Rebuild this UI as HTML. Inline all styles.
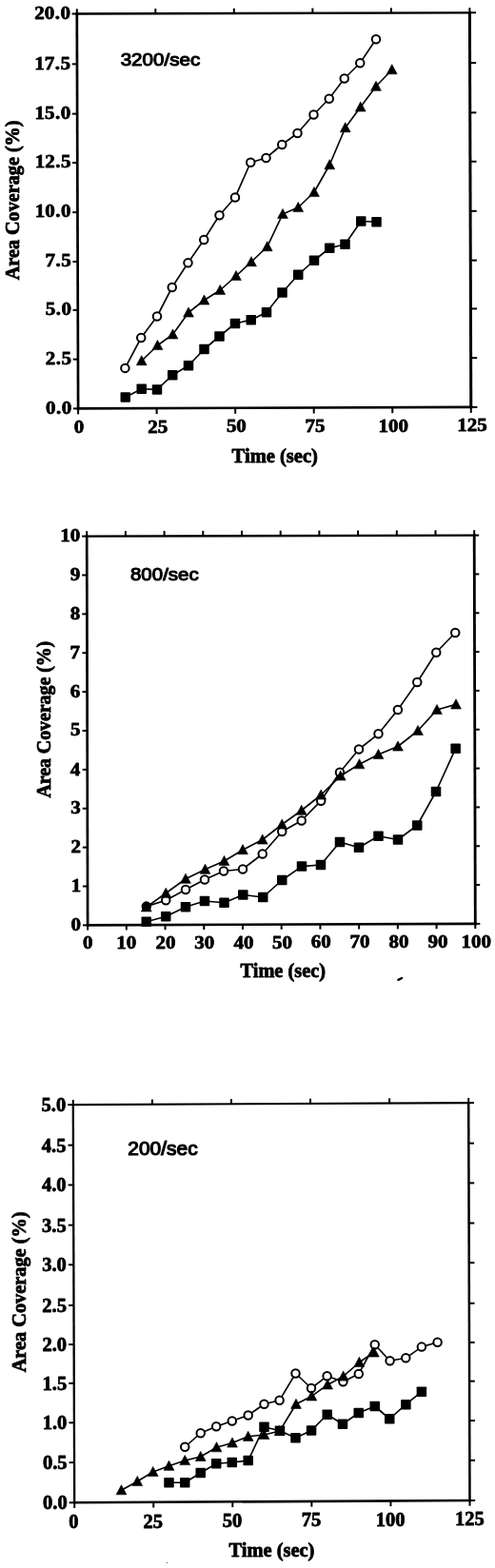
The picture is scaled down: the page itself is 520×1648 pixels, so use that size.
<!DOCTYPE html>
<html lang="en"><head><meta charset="utf-8"><title>Area coverage versus time</title>
<style>
html,body{margin:0;padding:0;background:#fff;}
svg{display:block;}
text{fill:#000;stroke-linejoin:round;}
</style></head>
<body>
<svg width="520" height="1648" viewBox="0 0 520 1648">
<rect width="520" height="1648" fill="#fff"/>
<g>
<line x1="80.80" y1="13.35" x2="82.10" y2="430.70" stroke="#000" stroke-width="2.7" stroke-linecap="butt"/>
<line x1="493.40" y1="12.15" x2="494.80" y2="429.20" stroke="#000" stroke-width="3.0" stroke-linecap="butt"/>
<line x1="79.45" y1="14.50" x2="494.90" y2="13.30" stroke="#000" stroke-width="2.3" stroke-linecap="butt"/>
<line x1="80.75" y1="429.40" x2="496.30" y2="427.90" stroke="#000" stroke-width="2.6" stroke-linecap="butt"/>
<line x1="80.80" y1="14.50" x2="80.80" y2="9.30" stroke="#000" stroke-width="2.0" stroke-linecap="butt"/>
<line x1="82.10" y1="429.40" x2="82.10" y2="435.40" stroke="#000" stroke-width="2.0" stroke-linecap="butt"/>
<line x1="163.32" y1="14.26" x2="163.32" y2="9.06" stroke="#000" stroke-width="2.0" stroke-linecap="butt"/>
<line x1="164.64" y1="429.10" x2="164.64" y2="435.10" stroke="#000" stroke-width="2.0" stroke-linecap="butt"/>
<line x1="245.84" y1="14.02" x2="245.84" y2="8.82" stroke="#000" stroke-width="2.0" stroke-linecap="butt"/>
<line x1="247.18" y1="428.80" x2="247.18" y2="434.80" stroke="#000" stroke-width="2.0" stroke-linecap="butt"/>
<line x1="328.36" y1="13.78" x2="328.36" y2="8.58" stroke="#000" stroke-width="2.0" stroke-linecap="butt"/>
<line x1="329.72" y1="428.50" x2="329.72" y2="434.50" stroke="#000" stroke-width="2.0" stroke-linecap="butt"/>
<line x1="410.88" y1="13.54" x2="410.88" y2="8.34" stroke="#000" stroke-width="2.0" stroke-linecap="butt"/>
<line x1="412.26" y1="428.20" x2="412.26" y2="434.20" stroke="#000" stroke-width="2.0" stroke-linecap="butt"/>
<line x1="493.40" y1="13.30" x2="493.40" y2="8.10" stroke="#000" stroke-width="2.0" stroke-linecap="butt"/>
<line x1="494.80" y1="427.90" x2="494.80" y2="433.90" stroke="#000" stroke-width="2.0" stroke-linecap="butt"/>
<line x1="82.10" y1="429.40" x2="76.90" y2="429.40" stroke="#000" stroke-width="2.0" stroke-linecap="butt"/>
<line x1="494.80" y1="427.90" x2="501.40" y2="427.90" stroke="#000" stroke-width="2.0" stroke-linecap="butt"/>
<line x1="81.94" y1="377.64" x2="76.74" y2="377.64" stroke="#000" stroke-width="2.0" stroke-linecap="butt"/>
<line x1="494.62" y1="376.18" x2="501.23" y2="376.18" stroke="#000" stroke-width="2.0" stroke-linecap="butt"/>
<line x1="81.77" y1="325.87" x2="76.57" y2="325.87" stroke="#000" stroke-width="2.0" stroke-linecap="butt"/>
<line x1="494.45" y1="324.45" x2="501.05" y2="324.45" stroke="#000" stroke-width="2.0" stroke-linecap="butt"/>
<line x1="81.61" y1="275.01" x2="76.41" y2="275.01" stroke="#000" stroke-width="2.0" stroke-linecap="butt"/>
<line x1="494.27" y1="273.62" x2="500.88" y2="273.62" stroke="#000" stroke-width="2.0" stroke-linecap="butt"/>
<line x1="81.45" y1="223.15" x2="76.25" y2="223.15" stroke="#000" stroke-width="2.0" stroke-linecap="butt"/>
<line x1="494.10" y1="221.80" x2="500.70" y2="221.80" stroke="#000" stroke-width="2.0" stroke-linecap="butt"/>
<line x1="81.29" y1="171.09" x2="76.09" y2="171.09" stroke="#000" stroke-width="2.0" stroke-linecap="butt"/>
<line x1="493.93" y1="169.77" x2="500.53" y2="169.77" stroke="#000" stroke-width="2.0" stroke-linecap="butt"/>
<line x1="81.12" y1="119.63" x2="75.92" y2="119.63" stroke="#000" stroke-width="2.0" stroke-linecap="butt"/>
<line x1="493.75" y1="118.35" x2="500.35" y2="118.35" stroke="#000" stroke-width="2.0" stroke-linecap="butt"/>
<line x1="80.96" y1="67.36" x2="75.76" y2="67.36" stroke="#000" stroke-width="2.0" stroke-linecap="butt"/>
<line x1="493.57" y1="66.12" x2="500.18" y2="66.12" stroke="#000" stroke-width="2.0" stroke-linecap="butt"/>
<line x1="80.80" y1="14.50" x2="75.60" y2="14.50" stroke="#000" stroke-width="2.0" stroke-linecap="butt"/>
<line x1="493.40" y1="13.30" x2="500.00" y2="13.30" stroke="#000" stroke-width="2.0" stroke-linecap="butt"/>
<line x1="91.20" y1="562.40" x2="92.10" y2="973.70" stroke="#000" stroke-width="2.7" stroke-linecap="butt"/>
<line x1="498.20" y1="561.40" x2="499.30" y2="972.20" stroke="#000" stroke-width="2.8" stroke-linecap="butt"/>
<line x1="89.85" y1="563.60" x2="499.60" y2="562.60" stroke="#000" stroke-width="2.4" stroke-linecap="butt"/>
<line x1="90.75" y1="972.40" x2="500.70" y2="970.90" stroke="#000" stroke-width="2.6" stroke-linecap="butt"/>
<line x1="91.20" y1="563.60" x2="91.20" y2="558.20" stroke="#000" stroke-width="2.0" stroke-linecap="butt"/>
<line x1="92.10" y1="972.40" x2="92.10" y2="977.60" stroke="#000" stroke-width="2.0" stroke-linecap="butt"/>
<line x1="131.90" y1="563.50" x2="131.90" y2="558.10" stroke="#000" stroke-width="2.0" stroke-linecap="butt"/>
<line x1="132.82" y1="972.25" x2="132.82" y2="977.45" stroke="#000" stroke-width="2.0" stroke-linecap="butt"/>
<line x1="172.60" y1="563.40" x2="172.60" y2="558.00" stroke="#000" stroke-width="2.0" stroke-linecap="butt"/>
<line x1="173.54" y1="972.10" x2="173.54" y2="977.30" stroke="#000" stroke-width="2.0" stroke-linecap="butt"/>
<line x1="213.30" y1="563.30" x2="213.30" y2="557.90" stroke="#000" stroke-width="2.0" stroke-linecap="butt"/>
<line x1="214.26" y1="971.95" x2="214.26" y2="977.15" stroke="#000" stroke-width="2.0" stroke-linecap="butt"/>
<line x1="254.00" y1="563.20" x2="254.00" y2="557.80" stroke="#000" stroke-width="2.0" stroke-linecap="butt"/>
<line x1="254.98" y1="971.80" x2="254.98" y2="977.00" stroke="#000" stroke-width="2.0" stroke-linecap="butt"/>
<line x1="294.70" y1="563.10" x2="294.70" y2="557.70" stroke="#000" stroke-width="2.0" stroke-linecap="butt"/>
<line x1="295.70" y1="971.65" x2="295.70" y2="976.85" stroke="#000" stroke-width="2.0" stroke-linecap="butt"/>
<line x1="335.40" y1="563.00" x2="335.40" y2="557.60" stroke="#000" stroke-width="2.0" stroke-linecap="butt"/>
<line x1="336.42" y1="971.50" x2="336.42" y2="976.70" stroke="#000" stroke-width="2.0" stroke-linecap="butt"/>
<line x1="376.10" y1="562.90" x2="376.10" y2="557.50" stroke="#000" stroke-width="2.0" stroke-linecap="butt"/>
<line x1="377.14" y1="971.35" x2="377.14" y2="976.55" stroke="#000" stroke-width="2.0" stroke-linecap="butt"/>
<line x1="416.80" y1="562.80" x2="416.80" y2="557.40" stroke="#000" stroke-width="2.0" stroke-linecap="butt"/>
<line x1="417.86" y1="971.20" x2="417.86" y2="976.40" stroke="#000" stroke-width="2.0" stroke-linecap="butt"/>
<line x1="457.50" y1="562.70" x2="457.50" y2="557.30" stroke="#000" stroke-width="2.0" stroke-linecap="butt"/>
<line x1="458.58" y1="971.05" x2="458.58" y2="976.25" stroke="#000" stroke-width="2.0" stroke-linecap="butt"/>
<line x1="498.20" y1="562.60" x2="498.20" y2="557.20" stroke="#000" stroke-width="2.0" stroke-linecap="butt"/>
<line x1="499.30" y1="970.90" x2="499.30" y2="976.10" stroke="#000" stroke-width="2.0" stroke-linecap="butt"/>
<line x1="92.10" y1="972.40" x2="87.00" y2="972.40" stroke="#000" stroke-width="2.0" stroke-linecap="butt"/>
<line x1="499.30" y1="970.90" x2="504.30" y2="970.90" stroke="#000" stroke-width="2.0" stroke-linecap="butt"/>
<line x1="92.01" y1="931.52" x2="86.91" y2="931.52" stroke="#000" stroke-width="2.0" stroke-linecap="butt"/>
<line x1="499.19" y1="930.07" x2="504.19" y2="930.07" stroke="#000" stroke-width="2.0" stroke-linecap="butt"/>
<line x1="91.92" y1="890.64" x2="86.82" y2="890.64" stroke="#000" stroke-width="2.0" stroke-linecap="butt"/>
<line x1="499.08" y1="889.24" x2="504.08" y2="889.24" stroke="#000" stroke-width="2.0" stroke-linecap="butt"/>
<line x1="91.83" y1="849.76" x2="86.73" y2="849.76" stroke="#000" stroke-width="2.0" stroke-linecap="butt"/>
<line x1="498.97" y1="848.41" x2="503.97" y2="848.41" stroke="#000" stroke-width="2.0" stroke-linecap="butt"/>
<line x1="91.74" y1="808.88" x2="86.64" y2="808.88" stroke="#000" stroke-width="2.0" stroke-linecap="butt"/>
<line x1="498.86" y1="807.58" x2="503.86" y2="807.58" stroke="#000" stroke-width="2.0" stroke-linecap="butt"/>
<line x1="91.65" y1="768.00" x2="86.55" y2="768.00" stroke="#000" stroke-width="2.0" stroke-linecap="butt"/>
<line x1="498.75" y1="766.75" x2="503.75" y2="766.75" stroke="#000" stroke-width="2.0" stroke-linecap="butt"/>
<line x1="91.56" y1="727.12" x2="86.46" y2="727.12" stroke="#000" stroke-width="2.0" stroke-linecap="butt"/>
<line x1="498.64" y1="725.92" x2="503.64" y2="725.92" stroke="#000" stroke-width="2.0" stroke-linecap="butt"/>
<line x1="91.47" y1="686.24" x2="86.37" y2="686.24" stroke="#000" stroke-width="2.0" stroke-linecap="butt"/>
<line x1="498.53" y1="685.09" x2="503.53" y2="685.09" stroke="#000" stroke-width="2.0" stroke-linecap="butt"/>
<line x1="91.38" y1="645.36" x2="86.28" y2="645.36" stroke="#000" stroke-width="2.0" stroke-linecap="butt"/>
<line x1="498.42" y1="644.26" x2="503.42" y2="644.26" stroke="#000" stroke-width="2.0" stroke-linecap="butt"/>
<line x1="91.29" y1="604.48" x2="86.19" y2="604.48" stroke="#000" stroke-width="2.0" stroke-linecap="butt"/>
<line x1="498.31" y1="603.43" x2="503.31" y2="603.43" stroke="#000" stroke-width="2.0" stroke-linecap="butt"/>
<line x1="91.20" y1="563.60" x2="86.10" y2="563.60" stroke="#000" stroke-width="2.0" stroke-linecap="butt"/>
<line x1="498.20" y1="562.60" x2="503.20" y2="562.60" stroke="#000" stroke-width="2.0" stroke-linecap="butt"/>
<line x1="76.80" y1="1160.00" x2="78.20" y2="1580.60" stroke="#000" stroke-width="2.3" stroke-linecap="butt"/>
<line x1="492.20" y1="1158.00" x2="493.50" y2="1578.30" stroke="#000" stroke-width="2.5" stroke-linecap="butt"/>
<line x1="75.65" y1="1161.10" x2="493.45" y2="1159.10" stroke="#000" stroke-width="2.2" stroke-linecap="butt"/>
<line x1="77.05" y1="1579.30" x2="494.75" y2="1577.00" stroke="#000" stroke-width="2.6" stroke-linecap="butt"/>
<line x1="76.80" y1="1161.10" x2="76.80" y2="1155.90" stroke="#000" stroke-width="2.0" stroke-linecap="butt"/>
<line x1="78.20" y1="1579.30" x2="78.20" y2="1585.00" stroke="#000" stroke-width="2.0" stroke-linecap="butt"/>
<line x1="159.88" y1="1160.70" x2="159.88" y2="1155.50" stroke="#000" stroke-width="2.0" stroke-linecap="butt"/>
<line x1="161.26" y1="1578.84" x2="161.26" y2="1584.54" stroke="#000" stroke-width="2.0" stroke-linecap="butt"/>
<line x1="242.96" y1="1160.30" x2="242.96" y2="1155.10" stroke="#000" stroke-width="2.0" stroke-linecap="butt"/>
<line x1="244.32" y1="1578.38" x2="244.32" y2="1584.08" stroke="#000" stroke-width="2.0" stroke-linecap="butt"/>
<line x1="326.04" y1="1159.90" x2="326.04" y2="1154.70" stroke="#000" stroke-width="2.0" stroke-linecap="butt"/>
<line x1="327.38" y1="1577.92" x2="327.38" y2="1583.62" stroke="#000" stroke-width="2.0" stroke-linecap="butt"/>
<line x1="409.12" y1="1159.50" x2="409.12" y2="1154.30" stroke="#000" stroke-width="2.0" stroke-linecap="butt"/>
<line x1="410.44" y1="1577.46" x2="410.44" y2="1583.16" stroke="#000" stroke-width="2.0" stroke-linecap="butt"/>
<line x1="492.20" y1="1159.10" x2="492.20" y2="1153.90" stroke="#000" stroke-width="2.0" stroke-linecap="butt"/>
<line x1="493.50" y1="1577.00" x2="493.50" y2="1582.70" stroke="#000" stroke-width="2.0" stroke-linecap="butt"/>
<line x1="78.20" y1="1579.30" x2="72.70" y2="1579.30" stroke="#000" stroke-width="2.0" stroke-linecap="butt"/>
<line x1="493.50" y1="1577.00" x2="499.20" y2="1577.00" stroke="#000" stroke-width="2.0" stroke-linecap="butt"/>
<line x1="78.06" y1="1537.13" x2="72.56" y2="1537.13" stroke="#000" stroke-width="2.0" stroke-linecap="butt"/>
<line x1="493.37" y1="1534.86" x2="499.07" y2="1534.86" stroke="#000" stroke-width="2.0" stroke-linecap="butt"/>
<line x1="77.92" y1="1495.31" x2="72.42" y2="1495.31" stroke="#000" stroke-width="2.0" stroke-linecap="butt"/>
<line x1="493.24" y1="1493.07" x2="498.94" y2="1493.07" stroke="#000" stroke-width="2.0" stroke-linecap="butt"/>
<line x1="77.78" y1="1453.84" x2="72.28" y2="1453.84" stroke="#000" stroke-width="2.0" stroke-linecap="butt"/>
<line x1="493.11" y1="1451.63" x2="498.81" y2="1451.63" stroke="#000" stroke-width="2.0" stroke-linecap="butt"/>
<line x1="77.64" y1="1413.07" x2="72.14" y2="1413.07" stroke="#000" stroke-width="2.0" stroke-linecap="butt"/>
<line x1="492.98" y1="1410.89" x2="498.68" y2="1410.89" stroke="#000" stroke-width="2.0" stroke-linecap="butt"/>
<line x1="77.50" y1="1371.90" x2="72.00" y2="1371.90" stroke="#000" stroke-width="2.0" stroke-linecap="butt"/>
<line x1="492.85" y1="1369.75" x2="498.55" y2="1369.75" stroke="#000" stroke-width="2.0" stroke-linecap="butt"/>
<line x1="77.36" y1="1329.28" x2="71.86" y2="1329.28" stroke="#000" stroke-width="2.0" stroke-linecap="butt"/>
<line x1="492.72" y1="1327.16" x2="498.42" y2="1327.16" stroke="#000" stroke-width="2.0" stroke-linecap="butt"/>
<line x1="77.22" y1="1287.61" x2="71.72" y2="1287.61" stroke="#000" stroke-width="2.0" stroke-linecap="butt"/>
<line x1="492.59" y1="1285.52" x2="498.29" y2="1285.52" stroke="#000" stroke-width="2.0" stroke-linecap="butt"/>
<line x1="77.08" y1="1245.44" x2="71.58" y2="1245.44" stroke="#000" stroke-width="2.0" stroke-linecap="butt"/>
<line x1="492.46" y1="1243.38" x2="498.16" y2="1243.38" stroke="#000" stroke-width="2.0" stroke-linecap="butt"/>
<line x1="76.94" y1="1203.62" x2="71.44" y2="1203.62" stroke="#000" stroke-width="2.0" stroke-linecap="butt"/>
<line x1="492.33" y1="1201.59" x2="498.03" y2="1201.59" stroke="#000" stroke-width="2.0" stroke-linecap="butt"/>
<line x1="76.80" y1="1161.10" x2="71.30" y2="1161.10" stroke="#000" stroke-width="2.0" stroke-linecap="butt"/>
<line x1="492.20" y1="1159.10" x2="497.90" y2="1159.10" stroke="#000" stroke-width="2.0" stroke-linecap="butt"/>
<polyline points="131.40,386.90 148.25,355.00 165.00,332.50 180.75,302.00 197.50,276.25 214.25,252.00 230.50,226.25 247.00,207.50 263.25,170.75 279.50,166.00 296.25,152.00 312.50,140.00 329.50,120.50 345.75,103.75 361.75,82.50 378.25,66.25 395.00,41.25" fill="none" stroke="#000" stroke-width="1.65" stroke-linejoin="round"/>
<circle cx="131.40" cy="386.90" r="4.25" fill="#fff" stroke="#000" stroke-width="2.0"/>
<circle cx="148.25" cy="355.00" r="4.25" fill="#fff" stroke="#000" stroke-width="2.0"/>
<circle cx="165.00" cy="332.50" r="4.25" fill="#fff" stroke="#000" stroke-width="2.0"/>
<circle cx="180.75" cy="302.00" r="4.25" fill="#fff" stroke="#000" stroke-width="2.0"/>
<circle cx="197.50" cy="276.25" r="4.25" fill="#fff" stroke="#000" stroke-width="2.0"/>
<circle cx="214.25" cy="252.00" r="4.25" fill="#fff" stroke="#000" stroke-width="2.0"/>
<circle cx="230.50" cy="226.25" r="4.25" fill="#fff" stroke="#000" stroke-width="2.0"/>
<circle cx="247.00" cy="207.50" r="4.25" fill="#fff" stroke="#000" stroke-width="2.0"/>
<circle cx="263.25" cy="170.75" r="4.25" fill="#fff" stroke="#000" stroke-width="2.0"/>
<circle cx="279.50" cy="166.00" r="4.25" fill="#fff" stroke="#000" stroke-width="2.0"/>
<circle cx="296.25" cy="152.00" r="4.25" fill="#fff" stroke="#000" stroke-width="2.0"/>
<circle cx="312.50" cy="140.00" r="4.25" fill="#fff" stroke="#000" stroke-width="2.0"/>
<circle cx="329.50" cy="120.50" r="4.25" fill="#fff" stroke="#000" stroke-width="2.0"/>
<circle cx="345.75" cy="103.75" r="4.25" fill="#fff" stroke="#000" stroke-width="2.0"/>
<circle cx="361.75" cy="82.50" r="4.25" fill="#fff" stroke="#000" stroke-width="2.0"/>
<circle cx="378.25" cy="66.25" r="4.25" fill="#fff" stroke="#000" stroke-width="2.0"/>
<circle cx="395.00" cy="41.25" r="4.25" fill="#fff" stroke="#000" stroke-width="2.0"/>
<polyline points="131.75,417.40 148.75,408.70 165.00,409.40 181.25,394.25 198.00,384.25 214.50,367.00 230.50,353.50 247.00,340.00 263.75,336.25 280.00,328.25 296.50,307.50 313.25,288.75 330.00,273.75 346.25,260.75 362.50,256.75 379.25,232.50 395.50,233.25" fill="none" stroke="#000" stroke-width="1.65" stroke-linejoin="round"/>
<rect x="126.50" y="412.15" width="10.50" height="10.50" rx="0.8" fill="#000"/>
<rect x="143.50" y="403.45" width="10.50" height="10.50" rx="0.8" fill="#000"/>
<rect x="159.75" y="404.15" width="10.50" height="10.50" rx="0.8" fill="#000"/>
<rect x="176.00" y="389.00" width="10.50" height="10.50" rx="0.8" fill="#000"/>
<rect x="192.75" y="379.00" width="10.50" height="10.50" rx="0.8" fill="#000"/>
<rect x="209.25" y="361.75" width="10.50" height="10.50" rx="0.8" fill="#000"/>
<rect x="225.25" y="348.25" width="10.50" height="10.50" rx="0.8" fill="#000"/>
<rect x="241.75" y="334.75" width="10.50" height="10.50" rx="0.8" fill="#000"/>
<rect x="258.50" y="331.00" width="10.50" height="10.50" rx="0.8" fill="#000"/>
<rect x="274.75" y="323.00" width="10.50" height="10.50" rx="0.8" fill="#000"/>
<rect x="291.25" y="302.25" width="10.50" height="10.50" rx="0.8" fill="#000"/>
<rect x="308.00" y="283.50" width="10.50" height="10.50" rx="0.8" fill="#000"/>
<rect x="324.75" y="268.50" width="10.50" height="10.50" rx="0.8" fill="#000"/>
<rect x="341.00" y="255.50" width="10.50" height="10.50" rx="0.8" fill="#000"/>
<rect x="357.25" y="251.50" width="10.50" height="10.50" rx="0.8" fill="#000"/>
<rect x="374.00" y="227.25" width="10.50" height="10.50" rx="0.8" fill="#000"/>
<rect x="390.25" y="228.00" width="10.50" height="10.50" rx="0.8" fill="#000"/>
<polyline points="148.75,379.25 165.50,363.00 181.50,351.50 198.00,328.50 214.50,315.50 231.25,305.00 248.00,290.00 264.00,275.25 280.75,259.25 297.00,225.00 313.25,218.00 330.00,202.00 346.25,173.25 362.75,134.25 378.75,112.50 395.00,90.75 411.75,73.25" fill="none" stroke="#000" stroke-width="1.65" stroke-linejoin="round"/>
<polygon points="148.75,373.65 154.15,383.85 143.35,383.85" fill="#000" stroke="#000" stroke-width="0.6" stroke-linejoin="round"/>
<polygon points="165.50,357.40 170.90,367.60 160.10,367.60" fill="#000" stroke="#000" stroke-width="0.6" stroke-linejoin="round"/>
<polygon points="181.50,345.90 186.90,356.10 176.10,356.10" fill="#000" stroke="#000" stroke-width="0.6" stroke-linejoin="round"/>
<polygon points="198.00,322.90 203.40,333.10 192.60,333.10" fill="#000" stroke="#000" stroke-width="0.6" stroke-linejoin="round"/>
<polygon points="214.50,309.90 219.90,320.10 209.10,320.10" fill="#000" stroke="#000" stroke-width="0.6" stroke-linejoin="round"/>
<polygon points="231.25,299.40 236.65,309.60 225.85,309.60" fill="#000" stroke="#000" stroke-width="0.6" stroke-linejoin="round"/>
<polygon points="248.00,284.40 253.40,294.60 242.60,294.60" fill="#000" stroke="#000" stroke-width="0.6" stroke-linejoin="round"/>
<polygon points="264.00,269.65 269.40,279.85 258.60,279.85" fill="#000" stroke="#000" stroke-width="0.6" stroke-linejoin="round"/>
<polygon points="280.75,253.65 286.15,263.85 275.35,263.85" fill="#000" stroke="#000" stroke-width="0.6" stroke-linejoin="round"/>
<polygon points="297.00,219.40 302.40,229.60 291.60,229.60" fill="#000" stroke="#000" stroke-width="0.6" stroke-linejoin="round"/>
<polygon points="313.25,212.40 318.65,222.60 307.85,222.60" fill="#000" stroke="#000" stroke-width="0.6" stroke-linejoin="round"/>
<polygon points="330.00,196.40 335.40,206.60 324.60,206.60" fill="#000" stroke="#000" stroke-width="0.6" stroke-linejoin="round"/>
<polygon points="346.25,167.65 351.65,177.85 340.85,177.85" fill="#000" stroke="#000" stroke-width="0.6" stroke-linejoin="round"/>
<polygon points="362.75,128.65 368.15,138.85 357.35,138.85" fill="#000" stroke="#000" stroke-width="0.6" stroke-linejoin="round"/>
<polygon points="378.75,106.90 384.15,117.10 373.35,117.10" fill="#000" stroke="#000" stroke-width="0.6" stroke-linejoin="round"/>
<polygon points="395.00,85.15 400.40,95.35 389.60,95.35" fill="#000" stroke="#000" stroke-width="0.6" stroke-linejoin="round"/>
<polygon points="411.75,67.65 417.15,77.85 406.35,77.85" fill="#000" stroke="#000" stroke-width="0.6" stroke-linejoin="round"/>
<polyline points="153.80,952.60 174.25,946.25 195.00,935.00 215.00,924.50 235.00,915.50 255.00,913.50 275.75,897.50 296.25,874.00 316.75,862.50 337.20,841.70 357.00,811.70 377.00,787.50 397.50,771.30 417.90,746.00 438.25,717.00 458.25,685.75 478.25,665.00" fill="none" stroke="#000" stroke-width="1.65" stroke-linejoin="round"/>
<circle cx="153.80" cy="952.60" r="4.25" fill="#000" stroke="#000" stroke-width="2.0"/>
<circle cx="174.25" cy="946.25" r="4.25" fill="#fff" stroke="#000" stroke-width="2.0"/>
<circle cx="195.00" cy="935.00" r="4.25" fill="#fff" stroke="#000" stroke-width="2.0"/>
<circle cx="215.00" cy="924.50" r="4.25" fill="#fff" stroke="#000" stroke-width="2.0"/>
<circle cx="235.00" cy="915.50" r="4.25" fill="#fff" stroke="#000" stroke-width="2.0"/>
<circle cx="255.00" cy="913.50" r="4.25" fill="#fff" stroke="#000" stroke-width="2.0"/>
<circle cx="275.75" cy="897.50" r="4.25" fill="#fff" stroke="#000" stroke-width="2.0"/>
<circle cx="296.25" cy="874.00" r="4.25" fill="#fff" stroke="#000" stroke-width="2.0"/>
<circle cx="316.75" cy="862.50" r="4.25" fill="#fff" stroke="#000" stroke-width="2.0"/>
<circle cx="337.20" cy="841.70" r="4.25" fill="#fff" stroke="#000" stroke-width="2.0"/>
<circle cx="357.00" cy="811.70" r="4.25" fill="#fff" stroke="#000" stroke-width="2.0"/>
<circle cx="377.00" cy="787.50" r="4.25" fill="#fff" stroke="#000" stroke-width="2.0"/>
<circle cx="397.50" cy="771.30" r="4.25" fill="#fff" stroke="#000" stroke-width="2.0"/>
<circle cx="417.90" cy="746.00" r="4.25" fill="#fff" stroke="#000" stroke-width="2.0"/>
<circle cx="438.25" cy="717.00" r="4.25" fill="#fff" stroke="#000" stroke-width="2.0"/>
<circle cx="458.25" cy="685.75" r="4.25" fill="#fff" stroke="#000" stroke-width="2.0"/>
<circle cx="478.25" cy="665.00" r="4.25" fill="#fff" stroke="#000" stroke-width="2.0"/>
<polyline points="153.75,968.75 174.25,963.25 195.00,953.25 215.00,947.00 235.50,948.75 255.30,940.50 276.25,943.00 296.25,925.00 317.00,910.60 337.00,909.00 357.00,885.00 377.00,890.75 397.50,878.75 418.00,882.50 438.25,867.50 458.00,832.00 478.65,786.70" fill="none" stroke="#000" stroke-width="1.65" stroke-linejoin="round"/>
<rect x="148.50" y="963.50" width="10.50" height="10.50" rx="0.8" fill="#000"/>
<rect x="169.00" y="958.00" width="10.50" height="10.50" rx="0.8" fill="#000"/>
<rect x="189.75" y="948.00" width="10.50" height="10.50" rx="0.8" fill="#000"/>
<rect x="209.75" y="941.75" width="10.50" height="10.50" rx="0.8" fill="#000"/>
<rect x="230.25" y="943.50" width="10.50" height="10.50" rx="0.8" fill="#000"/>
<rect x="250.05" y="935.25" width="10.50" height="10.50" rx="0.8" fill="#000"/>
<rect x="271.00" y="937.75" width="10.50" height="10.50" rx="0.8" fill="#000"/>
<rect x="291.00" y="919.75" width="10.50" height="10.50" rx="0.8" fill="#000"/>
<rect x="311.75" y="905.35" width="10.50" height="10.50" rx="0.8" fill="#000"/>
<rect x="331.75" y="903.75" width="10.50" height="10.50" rx="0.8" fill="#000"/>
<rect x="351.75" y="879.75" width="10.50" height="10.50" rx="0.8" fill="#000"/>
<rect x="371.75" y="885.50" width="10.50" height="10.50" rx="0.8" fill="#000"/>
<rect x="392.25" y="873.50" width="10.50" height="10.50" rx="0.8" fill="#000"/>
<rect x="412.75" y="877.25" width="10.50" height="10.50" rx="0.8" fill="#000"/>
<rect x="433.00" y="862.25" width="10.50" height="10.50" rx="0.8" fill="#000"/>
<rect x="452.75" y="826.75" width="10.50" height="10.50" rx="0.8" fill="#000"/>
<rect x="473.40" y="781.45" width="10.50" height="10.50" rx="0.8" fill="#000"/>
<polyline points="153.80,953.40 174.25,938.75 195.00,923.75 215.50,913.75 235.50,905.00 255.00,893.20 275.75,882.50 296.25,866.50 316.75,851.75 337.20,835.50 357.80,815.50 377.50,803.25 397.50,793.00 418.00,784.50 439.00,768.00 459.00,746.00 479.00,740.40" fill="none" stroke="#000" stroke-width="1.65" stroke-linejoin="round"/>
<polygon points="153.80,947.80 159.20,958.00 148.40,958.00" fill="#000" stroke="#000" stroke-width="0.6" stroke-linejoin="round"/>
<polygon points="174.25,933.15 179.65,943.35 168.85,943.35" fill="#000" stroke="#000" stroke-width="0.6" stroke-linejoin="round"/>
<polygon points="195.00,918.15 200.40,928.35 189.60,928.35" fill="#000" stroke="#000" stroke-width="0.6" stroke-linejoin="round"/>
<polygon points="215.50,908.15 220.90,918.35 210.10,918.35" fill="#000" stroke="#000" stroke-width="0.6" stroke-linejoin="round"/>
<polygon points="235.50,899.40 240.90,909.60 230.10,909.60" fill="#000" stroke="#000" stroke-width="0.6" stroke-linejoin="round"/>
<polygon points="255.00,887.60 260.40,897.80 249.60,897.80" fill="#000" stroke="#000" stroke-width="0.6" stroke-linejoin="round"/>
<polygon points="275.75,876.90 281.15,887.10 270.35,887.10" fill="#000" stroke="#000" stroke-width="0.6" stroke-linejoin="round"/>
<polygon points="296.25,860.90 301.65,871.10 290.85,871.10" fill="#000" stroke="#000" stroke-width="0.6" stroke-linejoin="round"/>
<polygon points="316.75,846.15 322.15,856.35 311.35,856.35" fill="#000" stroke="#000" stroke-width="0.6" stroke-linejoin="round"/>
<polygon points="337.20,829.90 342.60,840.10 331.80,840.10" fill="#000" stroke="#000" stroke-width="0.6" stroke-linejoin="round"/>
<polygon points="357.80,809.90 363.20,820.10 352.40,820.10" fill="#000" stroke="#000" stroke-width="0.6" stroke-linejoin="round"/>
<polygon points="377.50,797.65 382.90,807.85 372.10,807.85" fill="#000" stroke="#000" stroke-width="0.6" stroke-linejoin="round"/>
<polygon points="397.50,787.40 402.90,797.60 392.10,797.60" fill="#000" stroke="#000" stroke-width="0.6" stroke-linejoin="round"/>
<polygon points="418.00,778.90 423.40,789.10 412.60,789.10" fill="#000" stroke="#000" stroke-width="0.6" stroke-linejoin="round"/>
<polygon points="439.00,762.40 444.40,772.60 433.60,772.60" fill="#000" stroke="#000" stroke-width="0.6" stroke-linejoin="round"/>
<polygon points="459.00,740.40 464.40,750.60 453.60,750.60" fill="#000" stroke="#000" stroke-width="0.6" stroke-linejoin="round"/>
<polygon points="479.00,734.80 484.40,745.00 473.60,745.00" fill="#000" stroke="#000" stroke-width="0.6" stroke-linejoin="round"/>
<polyline points="194.25,1520.75 210.75,1506.25 227.20,1499.20 243.80,1493.50 260.70,1487.50 277.50,1475.80 293.60,1471.80 310.50,1443.50 327.00,1459.00 343.60,1446.30 360.40,1452.30 376.80,1444.00 393.75,1413.20 409.60,1430.30 426.30,1427.30 442.90,1415.60 459.60,1410.80" fill="none" stroke="#000" stroke-width="1.65" stroke-linejoin="round"/>
<circle cx="194.25" cy="1520.75" r="4.25" fill="#fff" stroke="#000" stroke-width="2.0"/>
<circle cx="210.75" cy="1506.25" r="4.25" fill="#fff" stroke="#000" stroke-width="2.0"/>
<circle cx="227.20" cy="1499.20" r="4.25" fill="#fff" stroke="#000" stroke-width="2.0"/>
<circle cx="243.80" cy="1493.50" r="4.25" fill="#fff" stroke="#000" stroke-width="2.0"/>
<circle cx="260.70" cy="1487.50" r="4.25" fill="#fff" stroke="#000" stroke-width="2.0"/>
<circle cx="277.50" cy="1475.80" r="4.25" fill="#fff" stroke="#000" stroke-width="2.0"/>
<circle cx="293.60" cy="1471.80" r="4.25" fill="#fff" stroke="#000" stroke-width="2.0"/>
<circle cx="310.50" cy="1443.50" r="4.25" fill="#fff" stroke="#000" stroke-width="2.0"/>
<circle cx="327.00" cy="1459.00" r="4.25" fill="#fff" stroke="#000" stroke-width="2.0"/>
<circle cx="343.60" cy="1446.30" r="4.25" fill="#fff" stroke="#000" stroke-width="2.0"/>
<circle cx="360.40" cy="1452.30" r="4.25" fill="#fff" stroke="#000" stroke-width="2.0"/>
<circle cx="376.80" cy="1444.00" r="4.25" fill="#fff" stroke="#000" stroke-width="2.0"/>
<circle cx="393.75" cy="1413.20" r="4.25" fill="#fff" stroke="#000" stroke-width="2.0"/>
<circle cx="409.60" cy="1430.30" r="4.25" fill="#fff" stroke="#000" stroke-width="2.0"/>
<circle cx="426.30" cy="1427.30" r="4.25" fill="#fff" stroke="#000" stroke-width="2.0"/>
<circle cx="442.90" cy="1415.60" r="4.25" fill="#fff" stroke="#000" stroke-width="2.0"/>
<circle cx="459.60" cy="1410.80" r="4.25" fill="#fff" stroke="#000" stroke-width="2.0"/>
<polyline points="177.50,1558.25 194.25,1558.25 210.75,1548.00 227.20,1538.20 243.80,1537.00 260.70,1535.00 277.50,1499.70 294.00,1503.80 310.50,1511.30 327.10,1503.40 343.75,1486.75 360.00,1496.75 376.75,1485.00 393.75,1478.00 409.25,1491.25 426.40,1476.20 442.90,1462.70" fill="none" stroke="#000" stroke-width="1.65" stroke-linejoin="round"/>
<rect x="172.25" y="1553.00" width="10.50" height="10.50" rx="0.8" fill="#000"/>
<rect x="189.00" y="1553.00" width="10.50" height="10.50" rx="0.8" fill="#000"/>
<rect x="205.50" y="1542.75" width="10.50" height="10.50" rx="0.8" fill="#000"/>
<rect x="221.95" y="1532.95" width="10.50" height="10.50" rx="0.8" fill="#000"/>
<rect x="238.55" y="1531.75" width="10.50" height="10.50" rx="0.8" fill="#000"/>
<rect x="255.45" y="1529.75" width="10.50" height="10.50" rx="0.8" fill="#000"/>
<rect x="272.25" y="1494.45" width="10.50" height="10.50" rx="0.8" fill="#000"/>
<rect x="288.75" y="1498.55" width="10.50" height="10.50" rx="0.8" fill="#000"/>
<rect x="305.25" y="1506.05" width="10.50" height="10.50" rx="0.8" fill="#000"/>
<rect x="321.85" y="1498.15" width="10.50" height="10.50" rx="0.8" fill="#000"/>
<rect x="338.50" y="1481.50" width="10.50" height="10.50" rx="0.8" fill="#000"/>
<rect x="354.75" y="1491.50" width="10.50" height="10.50" rx="0.8" fill="#000"/>
<rect x="371.50" y="1479.75" width="10.50" height="10.50" rx="0.8" fill="#000"/>
<rect x="388.50" y="1472.75" width="10.50" height="10.50" rx="0.8" fill="#000"/>
<rect x="404.00" y="1486.00" width="10.50" height="10.50" rx="0.8" fill="#000"/>
<rect x="421.15" y="1470.95" width="10.50" height="10.50" rx="0.8" fill="#000"/>
<rect x="437.65" y="1457.45" width="10.50" height="10.50" rx="0.8" fill="#000"/>
<polyline points="127.50,1566.25 144.25,1557.00 160.75,1547.00 177.50,1540.75 194.25,1535.00 210.75,1531.00 227.50,1521.25 244.00,1516.50 260.70,1509.80 277.50,1508.00 293.80,1504.00 311.00,1475.80 327.40,1467.40 344.10,1455.40 360.70,1446.50 377.40,1431.80 392.90,1421.50" fill="none" stroke="#000" stroke-width="1.65" stroke-linejoin="round"/>
<polygon points="127.50,1560.65 132.90,1570.85 122.10,1570.85" fill="#000" stroke="#000" stroke-width="0.6" stroke-linejoin="round"/>
<polygon points="144.25,1551.40 149.65,1561.60 138.85,1561.60" fill="#000" stroke="#000" stroke-width="0.6" stroke-linejoin="round"/>
<polygon points="160.75,1541.40 166.15,1551.60 155.35,1551.60" fill="#000" stroke="#000" stroke-width="0.6" stroke-linejoin="round"/>
<polygon points="177.50,1535.15 182.90,1545.35 172.10,1545.35" fill="#000" stroke="#000" stroke-width="0.6" stroke-linejoin="round"/>
<polygon points="194.25,1529.40 199.65,1539.60 188.85,1539.60" fill="#000" stroke="#000" stroke-width="0.6" stroke-linejoin="round"/>
<polygon points="210.75,1525.40 216.15,1535.60 205.35,1535.60" fill="#000" stroke="#000" stroke-width="0.6" stroke-linejoin="round"/>
<polygon points="227.50,1515.65 232.90,1525.85 222.10,1525.85" fill="#000" stroke="#000" stroke-width="0.6" stroke-linejoin="round"/>
<polygon points="244.00,1510.90 249.40,1521.10 238.60,1521.10" fill="#000" stroke="#000" stroke-width="0.6" stroke-linejoin="round"/>
<polygon points="260.70,1504.20 266.10,1514.40 255.30,1514.40" fill="#000" stroke="#000" stroke-width="0.6" stroke-linejoin="round"/>
<polygon points="277.50,1502.40 282.90,1512.60 272.10,1512.60" fill="#000" stroke="#000" stroke-width="0.6" stroke-linejoin="round"/>
<polygon points="293.80,1498.40 299.20,1508.60 288.40,1508.60" fill="#000" stroke="#000" stroke-width="0.6" stroke-linejoin="round"/>
<polygon points="311.00,1470.20 316.40,1480.40 305.60,1480.40" fill="#000" stroke="#000" stroke-width="0.6" stroke-linejoin="round"/>
<polygon points="327.40,1461.80 332.80,1472.00 322.00,1472.00" fill="#000" stroke="#000" stroke-width="0.6" stroke-linejoin="round"/>
<polygon points="344.10,1449.80 349.50,1460.00 338.70,1460.00" fill="#000" stroke="#000" stroke-width="0.6" stroke-linejoin="round"/>
<polygon points="360.70,1440.90 366.10,1451.10 355.30,1451.10" fill="#000" stroke="#000" stroke-width="0.6" stroke-linejoin="round"/>
<polygon points="377.40,1426.20 382.80,1436.40 372.00,1436.40" fill="#000" stroke="#000" stroke-width="0.6" stroke-linejoin="round"/>
<polygon points="392.90,1415.90 398.30,1426.10 387.50,1426.10" fill="#000" stroke="#000" stroke-width="0.6" stroke-linejoin="round"/>
<line x1="418.40" y1="1029.80" x2="422.10" y2="1028.00" stroke="#000" stroke-width="2.5" stroke-linecap="round"/>
<circle cx="175.4" cy="1642.4" r="0.7" fill="#666"/>
</g>
<g>
<text transform="matrix(1.0500 0 0 0.9900 48.01 434.70)" font-family="'Liberation Serif', serif" font-weight="bold" font-size="20" stroke="#000" stroke-width="0.76">0<tspan dx="0.48">.</tspan><tspan dx="0.48">0</tspan></text>
<text transform="matrix(1.0500 0 0 0.9900 47.84 382.93)" font-family="'Liberation Serif', serif" font-weight="bold" font-size="20" stroke="#000" stroke-width="0.76">2<tspan dx="0.48">.</tspan><tspan dx="0.48">5</tspan></text>
<text transform="matrix(1.0500 0 0 0.9900 47.68 331.17)" font-family="'Liberation Serif', serif" font-weight="bold" font-size="20" stroke="#000" stroke-width="0.76">5<tspan dx="0.48">.</tspan><tspan dx="0.48">0</tspan></text>
<text transform="matrix(1.0500 0 0 0.9900 47.52 280.15)" font-family="'Liberation Serif', serif" font-weight="bold" font-size="20" stroke="#000" stroke-width="0.76">7<tspan dx="0.48">.</tspan><tspan dx="0.48">5</tspan></text>
<text transform="matrix(1.0500 0 0 0.9900 36.86 228.45)" font-family="'Liberation Serif', serif" font-weight="bold" font-size="20" stroke="#000" stroke-width="0.76">10<tspan dx="0.48">.</tspan><tspan dx="0.48">0</tspan></text>
<text transform="matrix(1.0500 0 0 0.9900 36.69 176.38)" font-family="'Liberation Serif', serif" font-weight="bold" font-size="20" stroke="#000" stroke-width="0.76">12<tspan dx="0.48">.</tspan><tspan dx="0.48">5</tspan></text>
<text transform="matrix(1.0500 0 0 0.9900 36.53 124.92)" font-family="'Liberation Serif', serif" font-weight="bold" font-size="20" stroke="#000" stroke-width="0.76">15<tspan dx="0.48">.</tspan><tspan dx="0.48">0</tspan></text>
<text transform="matrix(1.0500 0 0 0.9900 36.37 72.66)" font-family="'Liberation Serif', serif" font-weight="bold" font-size="20" stroke="#000" stroke-width="0.76">17<tspan dx="0.48">.</tspan><tspan dx="0.48">5</tspan></text>
<text transform="matrix(1.0500 0 0 0.9900 36.21 19.80)" font-family="'Liberation Serif', serif" font-weight="bold" font-size="20" stroke="#000" stroke-width="0.76">20<tspan dx="0.48">.</tspan><tspan dx="0.48">0</tspan></text>
<text transform="matrix(1.0500 0 0 0.9900 77.65 454.90)" font-family="'Liberation Serif', serif" font-weight="bold" font-size="20" stroke="#000" stroke-width="0.76">0</text>
<text transform="matrix(1.0500 0 0 0.9900 155.14 454.60)" font-family="'Liberation Serif', serif" font-weight="bold" font-size="20" stroke="#000" stroke-width="0.76">25</text>
<text transform="matrix(1.0500 0 0 0.9900 237.88 454.30)" font-family="'Liberation Serif', serif" font-weight="bold" font-size="20" stroke="#000" stroke-width="0.76">50</text>
<text transform="matrix(1.0500 0 0 0.9900 320.46 453.84)" font-family="'Liberation Serif', serif" font-weight="bold" font-size="20" stroke="#000" stroke-width="0.76">75</text>
<text transform="matrix(1.0500 0 0 0.9900 397.62 453.70)" font-family="'Liberation Serif', serif" font-weight="bold" font-size="20" stroke="#000" stroke-width="0.76">100</text>
<text transform="matrix(1.0500 0 0 0.9900 480.36 453.40)" font-family="'Liberation Serif', serif" font-weight="bold" font-size="20" stroke="#000" stroke-width="0.76">125</text>
<text transform="matrix(1.0500 0 0 0.9900 74.56 977.90)" font-family="'Liberation Serif', serif" font-weight="bold" font-size="20" stroke="#000" stroke-width="0.76">0</text>
<text transform="matrix(1.0500 0 0 0.9900 74.79 937.17)" font-family="'Liberation Serif', serif" font-weight="bold" font-size="20" stroke="#000" stroke-width="0.76">1</text>
<text transform="matrix(1.0500 0 0 0.9900 74.38 896.29)" font-family="'Liberation Serif', serif" font-weight="bold" font-size="20" stroke="#000" stroke-width="0.76">2</text>
<text transform="matrix(1.0500 0 0 0.9900 74.29 855.26)" font-family="'Liberation Serif', serif" font-weight="bold" font-size="20" stroke="#000" stroke-width="0.76">3</text>
<text transform="matrix(1.0500 0 0 0.9900 73.87 814.53)" font-family="'Liberation Serif', serif" font-weight="bold" font-size="20" stroke="#000" stroke-width="0.76">4</text>
<text transform="matrix(1.0500 0 0 0.9900 74.11 773.34)" font-family="'Liberation Serif', serif" font-weight="bold" font-size="20" stroke="#000" stroke-width="0.76">5</text>
<text transform="matrix(1.0500 0 0 0.9900 73.69 732.62)" font-family="'Liberation Serif', serif" font-weight="bold" font-size="20" stroke="#000" stroke-width="0.76">6</text>
<text transform="matrix(1.0500 0 0 0.9900 73.60 691.74)" font-family="'Liberation Serif', serif" font-weight="bold" font-size="20" stroke="#000" stroke-width="0.76">7</text>
<text transform="matrix(1.0500 0 0 0.9900 73.84 650.86)" font-family="'Liberation Serif', serif" font-weight="bold" font-size="20" stroke="#000" stroke-width="0.76">8</text>
<text transform="matrix(1.0500 0 0 0.9900 73.75 609.98)" font-family="'Liberation Serif', serif" font-weight="bold" font-size="20" stroke="#000" stroke-width="0.76">9</text>
<text transform="matrix(1.0500 0 0 0.9900 63.16 569.10)" font-family="'Liberation Serif', serif" font-weight="bold" font-size="20" stroke="#000" stroke-width="0.76">10</text>
<text transform="matrix(1.0500 0 0 0.9900 87.05 997.30)" font-family="'Liberation Serif', serif" font-weight="bold" font-size="20" stroke="#000" stroke-width="0.76">0</text>
<text transform="matrix(1.0500 0 0 0.9900 122.15 997.15)" font-family="'Liberation Serif', serif" font-weight="bold" font-size="20" stroke="#000" stroke-width="0.76">10</text>
<text transform="matrix(1.0500 0 0 0.9900 163.48 997.00)" font-family="'Liberation Serif', serif" font-weight="bold" font-size="20" stroke="#000" stroke-width="0.76">20</text>
<text transform="matrix(1.0500 0 0 0.9900 204.32 996.85)" font-family="'Liberation Serif', serif" font-weight="bold" font-size="20" stroke="#000" stroke-width="0.76">30</text>
<text transform="matrix(1.0500 0 0 0.9900 245.49 996.70)" font-family="'Liberation Serif', serif" font-weight="bold" font-size="20" stroke="#000" stroke-width="0.76">40</text>
<text transform="matrix(1.0500 0 0 0.9900 286.00 996.55)" font-family="'Liberation Serif', serif" font-weight="bold" font-size="20" stroke="#000" stroke-width="0.76">50</text>
<text transform="matrix(1.0500 0 0 0.9900 326.84 996.40)" font-family="'Liberation Serif', serif" font-weight="bold" font-size="20" stroke="#000" stroke-width="0.76">60</text>
<text transform="matrix(1.0500 0 0 0.9900 367.52 996.25)" font-family="'Liberation Serif', serif" font-weight="bold" font-size="20" stroke="#000" stroke-width="0.76">70</text>
<text transform="matrix(1.0500 0 0 0.9900 408.52 996.10)" font-family="'Liberation Serif', serif" font-weight="bold" font-size="20" stroke="#000" stroke-width="0.76">80</text>
<text transform="matrix(1.0500 0 0 0.9900 449.52 995.95)" font-family="'Liberation Serif', serif" font-weight="bold" font-size="20" stroke="#000" stroke-width="0.76">90</text>
<text transform="matrix(1.0500 0 0 0.9900 484.46 995.80)" font-family="'Liberation Serif', serif" font-weight="bold" font-size="20" stroke="#000" stroke-width="0.76">100</text>
<text transform="matrix(1.0250 0 0 1.0600 45.02 1586.26)" font-family="'Liberation Serif', serif" font-weight="bold" font-size="20" stroke="#000" stroke-width="0.78">0.0</text>
<text transform="matrix(1.0250 0 0 1.0600 44.88 1544.09)" font-family="'Liberation Serif', serif" font-weight="bold" font-size="20" stroke="#000" stroke-width="0.78">0.5</text>
<text transform="matrix(1.0250 0 0 1.0600 44.74 1502.27)" font-family="'Liberation Serif', serif" font-weight="bold" font-size="20" stroke="#000" stroke-width="0.78">1.0</text>
<text transform="matrix(1.0250 0 0 1.0600 44.60 1460.80)" font-family="'Liberation Serif', serif" font-weight="bold" font-size="20" stroke="#000" stroke-width="0.78">1.5</text>
<text transform="matrix(1.0250 0 0 1.0600 44.46 1420.03)" font-family="'Liberation Serif', serif" font-weight="bold" font-size="20" stroke="#000" stroke-width="0.78">2.0</text>
<text transform="matrix(1.0250 0 0 1.0600 44.32 1378.86)" font-family="'Liberation Serif', serif" font-weight="bold" font-size="20" stroke="#000" stroke-width="0.78">2.5</text>
<text transform="matrix(1.0250 0 0 1.0600 44.18 1336.24)" font-family="'Liberation Serif', serif" font-weight="bold" font-size="20" stroke="#000" stroke-width="0.78">3.0</text>
<text transform="matrix(1.0250 0 0 1.0600 44.04 1294.57)" font-family="'Liberation Serif', serif" font-weight="bold" font-size="20" stroke="#000" stroke-width="0.78">3.5</text>
<text transform="matrix(1.0250 0 0 1.0600 43.90 1252.40)" font-family="'Liberation Serif', serif" font-weight="bold" font-size="20" stroke="#000" stroke-width="0.78">4.0</text>
<text transform="matrix(1.0250 0 0 1.0600 43.76 1210.58)" font-family="'Liberation Serif', serif" font-weight="bold" font-size="20" stroke="#000" stroke-width="0.78">4.5</text>
<text transform="matrix(1.0250 0 0 1.0600 43.62 1168.06)" font-family="'Liberation Serif', serif" font-weight="bold" font-size="20" stroke="#000" stroke-width="0.78">5.0</text>
<text transform="matrix(1.0250 0 0 1.0600 72.28 1606.16)" font-family="'Liberation Serif', serif" font-weight="bold" font-size="20" stroke="#000" stroke-width="0.78">0</text>
<text transform="matrix(1.0250 0 0 1.0600 150.43 1605.56)" font-family="'Liberation Serif', serif" font-weight="bold" font-size="20" stroke="#000" stroke-width="0.78">25</text>
<text transform="matrix(1.0250 0 0 1.0600 233.71 1604.96)" font-family="'Liberation Serif', serif" font-weight="bold" font-size="20" stroke="#000" stroke-width="0.78">50</text>
<text transform="matrix(1.0250 0 0 1.0600 316.83 1604.19)" font-family="'Liberation Serif', serif" font-weight="bold" font-size="20" stroke="#000" stroke-width="0.78">75</text>
<text transform="matrix(1.0250 0 0 1.0600 394.66 1603.76)" font-family="'Liberation Serif', serif" font-weight="bold" font-size="20" stroke="#000" stroke-width="0.78">100</text>
<text transform="matrix(1.0250 0 0 1.0600 477.94 1603.16)" font-family="'Liberation Serif', serif" font-weight="bold" font-size="20" stroke="#000" stroke-width="0.78">125</text>
<text transform="matrix(1.0288 0 0 1.1000 243.58 485.50)" font-family="'Liberation Serif', serif" font-weight="bold" font-size="20" stroke="#000" stroke-width="0.78">Time (sec)</text>
<text transform="matrix(1.0173 0 0 1.0400 252.58 1027.10)" font-family="'Liberation Serif', serif" font-weight="bold" font-size="20" stroke="#000" stroke-width="0.79">Time (sec)</text>
<text transform="matrix(1.0231 0 0 1.1000 240.48 1635.50)" font-family="'Liberation Serif', serif" font-weight="bold" font-size="20" stroke="#000" stroke-width="0.78">Time (sec)</text>
<text transform="matrix(0 -1.0090 1.0100 0 20.40 294.20)" font-family="'Liberation Serif', serif" font-weight="bold" font-size="20" stroke="#000" stroke-width="0.79">Area Coverage (%)</text>
<text transform="matrix(0 -0.9921 1.0200 0 53.30 838.60)" font-family="'Liberation Serif', serif" font-weight="bold" font-size="20" stroke="#000" stroke-width="0.81">Area Coverage (%)</text>
<text transform="matrix(0 -1.0163 1.0300 0 26.70 1442.30)" font-family="'Liberation Serif', serif" font-weight="bold" font-size="20" stroke="#000" stroke-width="0.79">Area Coverage (%)</text>
<text transform="matrix(1.0295 0 0 0.9133 126.66 68.51)" font-family="'Liberation Sans', sans-serif" font-weight="normal" font-size="20" stroke="#000" stroke-width="1.17">3200/sec</text>
<text transform="matrix(1.0244 0 0 0.9467 136.96 610.40)" font-family="'Liberation Sans', sans-serif" font-weight="normal" font-size="20" stroke="#000" stroke-width="1.17">800/sec</text>
<text transform="matrix(1.0480 0 0 1.0267 134.32 1214.38)" font-family="'Liberation Sans', sans-serif" font-weight="normal" font-size="20" stroke="#000" stroke-width="1.15">200/sec</text>
</g>
</svg>
</body></html>
